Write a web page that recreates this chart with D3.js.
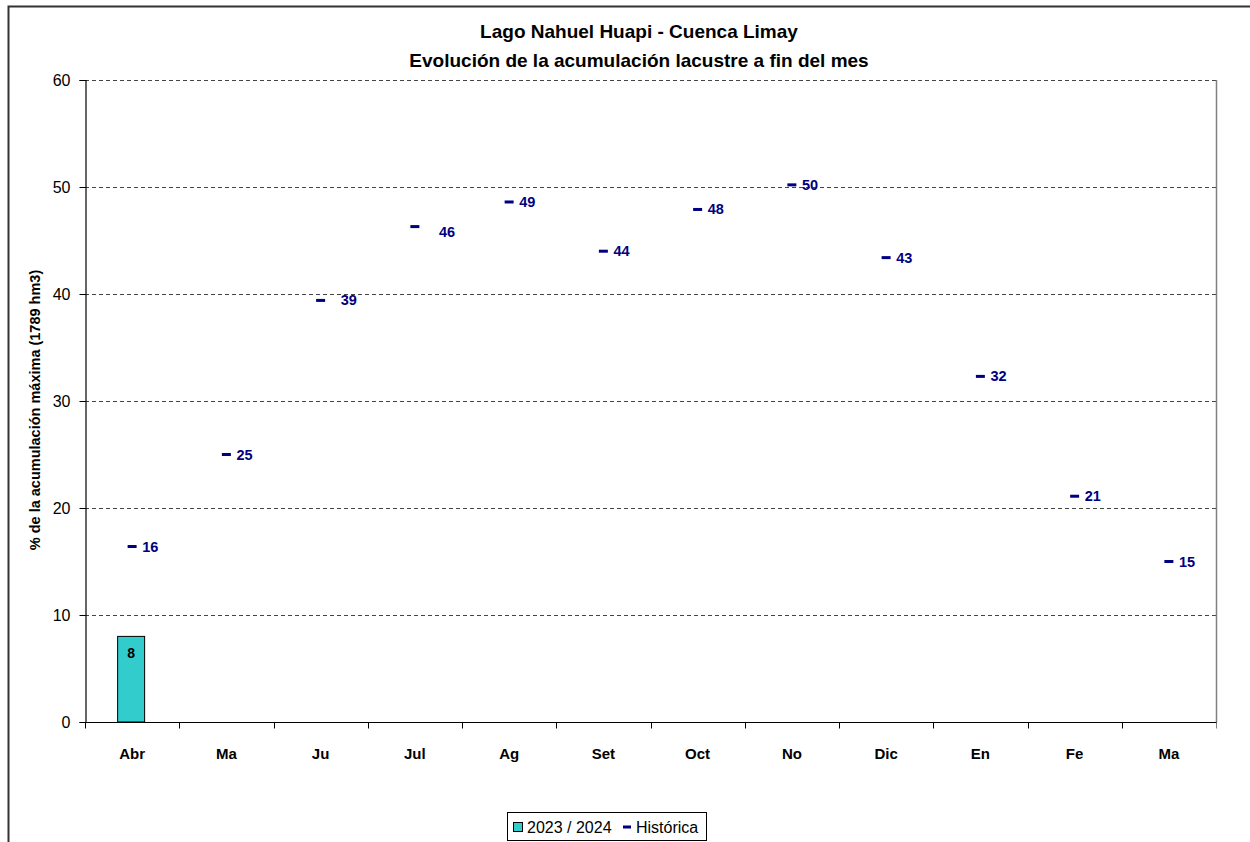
<!DOCTYPE html>
<html>
<head>
<meta charset="utf-8">
<script src="https://cdn.jsdelivr.net/npm/d3@7"></script>
<style>
  html, body { margin: 0; padding: 0; background: #fff; }
  svg { display: block; font-family: Arial, "Liberation Sans", sans-serif; }
</style>
</head>
<body>
<svg id="chart" width="1250" height="842"></svg>
<script>
// Months of the hydrological year (April to March)
const months = ["Abr", "Ma", "Ju", "Jul", "Ag", "Set", "Oct", "No", "Dic", "En", "Fe", "Ma "];
const monthLabels = ["Abr", "Ma", "Ju", "Jul", "Ag", "Set", "Oct", "No", "Dic", "En", "Fe", "Ma"];

// Current season storage (% of maximum), only April reported so far
const season2023 = [8];

// Historical mean storage at month end (% of maximum)
const historica = [16.4, 25, 39.4, 46.3, 48.6, 44, 47.9, 50.2, 43.4, 32.3, 21.1, 15];

// Y axis ticks
const yTicks = [0, 10, 20, 30, 40, 50, 60];

const titleLines = ["Lago Nahuel Huapi - Cuenca Limay", "Evolución de la acumulación lacustre a fin del mes"];
const yAxisTitle = "% de la acumulación máxima (1789 hm3)";
const legendLabels = ["2023 / 2024", "Histórica"];

const svg = d3.select("#chart");

// outer chart frame (extends past the right and bottom edges)
svg.append("rect")
  .attr("x", 8.5).attr("y", 6.5)
  .attr("width", 1400).attr("height", 1000)
  .attr("fill", "#fff").attr("stroke", "#333").attr("stroke-width", 2);

const plot = { left: 85, right: 1216, top: 80, bottom: 722 };

const x = d3.scaleBand().domain(months).range([plot.left, plot.right]).padding(0);
const y = d3.scaleLinear().domain([0, 60]).range([plot.bottom, plot.top]);

// titles
svg.append("g").selectAll("text").data(titleLines).join("text")
  .attr("x", 639).attr("y", (d, i) => 38 + i * 29)
  .attr("text-anchor", "middle")
  .attr("font-size", 19).attr("font-weight", "bold").attr("fill", "#000")
  .text(d => d);

// horizontal dashed grid
svg.append("g").selectAll("line").data(yTicks.filter(d => d > 0)).join("line")
  .attr("x1", plot.left).attr("x2", plot.right)
  .attr("y1", d => Math.round(y(d)) + 0.5).attr("y2", d => Math.round(y(d)) + 0.5)
  .attr("stroke", "#444").attr("stroke-width", 1)
  .attr("stroke-dasharray", "4,3");

// right border of plot area
svg.append("line")
  .attr("x1", plot.right + 0.5).attr("x2", plot.right + 0.5)
  .attr("y1", plot.top).attr("y2", plot.bottom)
  .attr("stroke", "#808080").attr("stroke-width", 1.5);

// y axis
const yAxis = d3.axisLeft(y).tickValues(yTicks).tickSize(6).tickPadding(9).tickFormat(d3.format("d"));
const gy = svg.append("g").attr("transform", `translate(${plot.left + 0.5},0)`).call(yAxis);
gy.select(".domain").attr("stroke", "#000").attr("stroke-width", 1.2);
gy.selectAll(".tick line").attr("stroke", "#000");
gy.selectAll(".tick text").attr("font-size", 16).attr("fill", "#000")
  .attr("font-family", "Arial, 'Liberation Sans', sans-serif");

// x axis with ticks at band boundaries
const gx = svg.append("g").attr("transform", `translate(0,${plot.bottom + 0.5})`);
gx.append("line")
  .attr("x1", plot.left).attr("x2", plot.right + 1)
  .attr("stroke", "#000").attr("stroke-width", 1.2);
const bounds = months.map(m => x(m)).concat([plot.right]);
gx.selectAll("line.tk").data(bounds).join("line").attr("class", "tk")
  .attr("x1", d => Math.round(d) + 0.5).attr("x2", d => Math.round(d) + 0.5)
  .attr("y1", 0).attr("y2", 6)
  .attr("stroke", (d, i) => i === bounds.length - 1 ? "#808080" : "#000");
gx.selectAll("text").data(months).join("text")
  .attr("x", d => x(d) + x.bandwidth() / 2).attr("y", 36)
  .attr("text-anchor", "middle")
  .attr("font-size", 15).attr("font-weight", "bold").attr("fill", "#000")
  .text((d, i) => monthLabels[i]);

// y axis title
svg.append("text")
  .attr("transform", `translate(40,${(plot.top + plot.bottom) / 2 + 9}) rotate(-90)`)
  .attr("text-anchor", "middle")
  .attr("font-size", 14.5).attr("font-weight", "bold").attr("fill", "#000")
  .text(yAxisTitle);

// 2023/2024 bars
const barW = 27;
const bars = svg.append("g");
bars.selectAll("rect").data(season2023).join("rect")
  .attr("x", (d, i) => x(months[i]) + x.bandwidth() / 2 - barW / 2 - 1)
  .attr("y", d => y(d))
  .attr("width", barW)
  .attr("height", d => y(0) - y(d))
  .attr("fill", "#33CCCC").attr("stroke", "#000").attr("stroke-width", 1);
bars.selectAll("text").data(season2023).join("text")
  .attr("x", (d, i) => x(months[i]) + x.bandwidth() / 2 - 1)
  .attr("y", d => y(d) + 22)
  .attr("text-anchor", "middle")
  .attr("font-size", 14).attr("font-weight", "bold").attr("fill", "#000")
  .text(d => d3.format(".0f")(d));

// historical mean markers (dash) with value labels
const navy = "#000080";
const nudge = { "Ju": [10, 0], "Jul": [14, 5] };
const hist = svg.append("g");
hist.selectAll("rect").data(historica).join("rect")
  .attr("x", (d, i) => x(months[i]) + x.bandwidth() / 2 - 4.5)
  .attr("y", d => y(d) - 1.5)
  .attr("width", 9).attr("height", 3)
  .attr("fill", navy);
hist.selectAll("text").data(historica).join("text")
  .attr("x", (d, i) => x(months[i]) + x.bandwidth() / 2 + 10 + (nudge[months[i]] ? nudge[months[i]][0] : 0))
  .attr("y", (d, i) => y(d) + 5 + (nudge[months[i]] ? nudge[months[i]][1] : 0))
  .attr("font-size", 14.5).attr("font-weight", "bold").attr("fill", navy)
  .text(d => d3.format(".0f")(d));

// legend
const lg = svg.append("g").attr("transform", "translate(507,812)");
lg.append("rect").attr("x", 0.5).attr("y", 0.5).attr("width", 199).attr("height", 28)
  .attr("fill", "#fff").attr("stroke", "#000").attr("stroke-width", 1);
lg.append("rect").attr("x", 6.5).attr("y", 10.5).attr("width", 9).attr("height", 9)
  .attr("fill", "#33CCCC").attr("stroke", "#000").attr("stroke-width", 1);
lg.append("text").attr("x", 20).attr("y", 21)
  .attr("font-size", 16).attr("fill", "#000").text(legendLabels[0]);
lg.append("rect").attr("x", 116).attr("y", 13.5).attr("width", 8).attr("height", 3)
  .attr("fill", navy);
lg.append("text").attr("x", 129).attr("y", 21)
  .attr("font-size", 16).attr("fill", "#000").text(legendLabels[1]);
</script>
</body>
</html>
